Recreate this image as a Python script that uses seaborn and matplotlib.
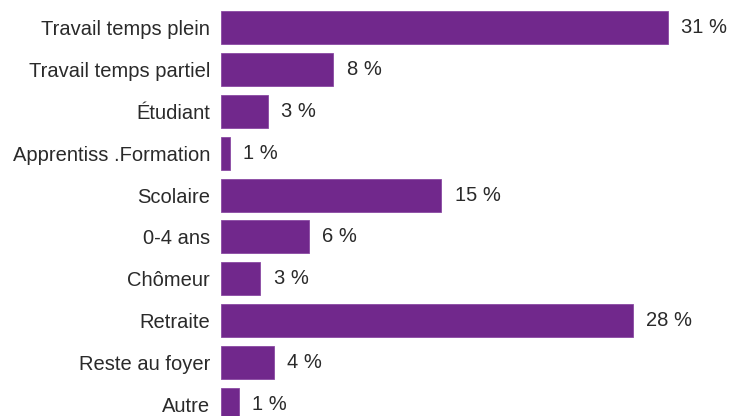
import matplotlib
matplotlib.use("Agg")
import matplotlib.pyplot as plt
import seaborn as sns
import pandas as pd

categories = ["Travail temps plein", "Travail temps partiel", "Étudiant",
              "Apprentiss .Formation", "Scolaire", "0-4 ans", "Chômeur",
              "Retraite", "Reste au foyer", "Autre"]
values = [30.6, 7.7, 3.2, 0.6, 15.1, 6.0, 2.7, 28.2, 3.6, 1.2]
value_labels = ["31 %", "8 %", "3 %", "1 %", "15 %", "6 %", "3 %", "28 %", "4 %", "1 %"]

df = pd.DataFrame({"cat": categories, "val": values})

sns.set_theme(style="white")
plt.rcParams["font.family"] = ["Liberation Sans", "DejaVu Sans"]

fig = plt.figure(figsize=(7.37, 4.16), dpi=100)
ax = fig.add_axes([221 / 737, 0, 1 - 221 / 737, 1])
sns.barplot(data=df, y="cat", x="val", orient="h", color="#71288c",
            saturation=1, width=0.79, edgecolor="#8a4aa3", linewidth=0.6, ax=ax)

ax.set_xlim(0, (737 - 221) / 14.6)
ax.set_ylim(9 + 12 / 41.8, -28 / 41.8)
ax.set_xlabel("")
ax.set_ylabel("")
ax.set_xticks([])
ax.tick_params(axis="y", length=0, pad=8, labelsize=14.5, labelcolor="#2a2a2a")
for s in ax.spines.values():
    s.set_visible(False)

for i, (v, lab) in enumerate(zip(values, value_labels)):
    ax.annotate(lab, xy=(v, i), xytext=(9.5, 0), textcoords="offset points",
                va="center", ha="left", fontsize=14.5, color="#2a2a2a")

fig.savefig("out.png", dpi=100)
